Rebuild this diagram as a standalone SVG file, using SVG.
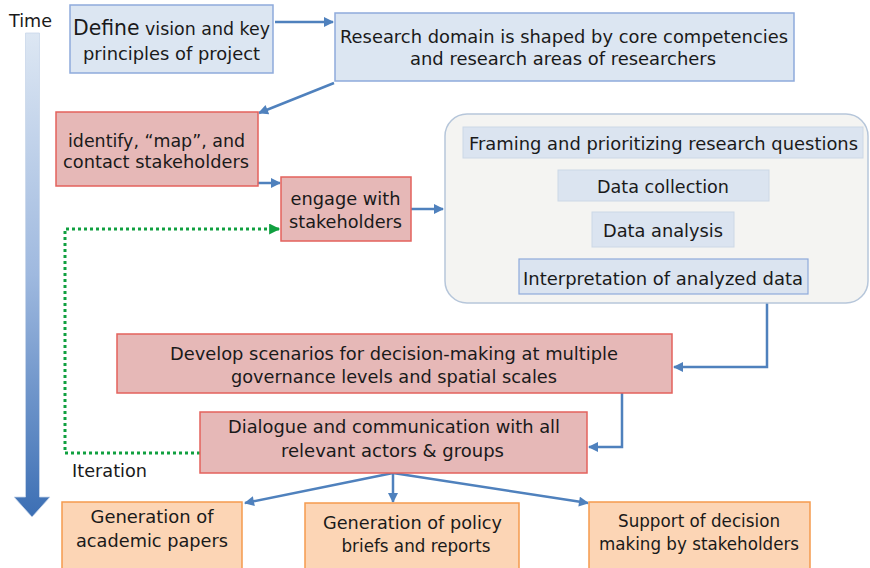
<svg xmlns="http://www.w3.org/2000/svg" width="870" height="568" viewBox="0 0 870 568">
<defs>
<style>
text{font-family:"DejaVu Sans","Liberation Sans",sans-serif;fill:#1a1a1a;text-anchor:middle;font-size:17.5px}
.blue{fill:#dce6f2;stroke:#8eaadb;stroke-width:1.5}
.red{fill:#e6b8b7;stroke:#e3625c;stroke-width:1.5}
.orange{fill:#fcd5b5;stroke:#f59a4e;stroke-width:1.5}
.inner{fill:#dbe4f0;stroke:#ccd8e6;stroke-width:1}
.conn{fill:none;stroke:#4f81bd;stroke-width:2.5}
.iter{fill:none;stroke:#10a040;stroke-width:3;stroke-dasharray:3 3}
</style>
<marker id="ab" viewBox="0 0 10 10" refX="9" refY="5" markerWidth="11" markerHeight="10" markerUnits="userSpaceOnUse" orient="auto"><path d="M0,0 L10,5 L0,10 z" fill="#4f81bd"/></marker>
<marker id="ag" viewBox="0 0 10 10" refX="9" refY="5" markerWidth="12" markerHeight="11" markerUnits="userSpaceOnUse" orient="auto"><path d="M0,0 L10,5 L0,10 z" fill="#10a040"/></marker>
<linearGradient id="tg" gradientUnits="userSpaceOnUse" x1="0" y1="33" x2="0" y2="517">
<stop offset="0" stop-color="#dde7f3"/>
<stop offset="0.5" stop-color="#9fb9df"/>
<stop offset="1" stop-color="#3c6fb4"/>
</linearGradient>
</defs>

<g id="time">
<path d="M25.5,33 H39.5 V497 H50 L32,517 L14,497 H25.5 Z" fill="url(#tg)" stroke="#c9d7ea" stroke-width="0.8"/>
<text x="30.5" y="27" font-size="17" textLength="43" lengthAdjust="spacingAndGlyphs">Time</text>
</g>

<g id="connectors">
<line class="conn" x1="275" y1="22" x2="333" y2="22" marker-end="url(#ab)"/>
<line class="conn" x1="334" y1="83" x2="259" y2="113" marker-end="url(#ab)"/>
<line class="conn" x1="258" y1="183" x2="280" y2="183" marker-end="url(#ab)"/>
<line class="conn" x1="411" y1="209" x2="443" y2="209" marker-end="url(#ab)"/>
<polyline class="conn" points="767,303 767,367 674,367" marker-end="url(#ab)"/>
<polyline class="conn" points="622,393 622,447 589,447" marker-end="url(#ab)"/>
<line class="conn" x1="393" y1="473" x2="245" y2="503" marker-end="url(#ab)"/>
<line class="conn" x1="393" y1="473" x2="393" y2="502" marker-end="url(#ab)"/>
<line class="conn" x1="393" y1="473" x2="588" y2="503" marker-end="url(#ab)"/>
<polyline class="iter" points="200,453 65,453 65,229 279,229" marker-end="url(#ag)"/>
<text x="109.5" y="477" font-size="17" textLength="75" lengthAdjust="spacingAndGlyphs">Iteration</text>
</g>

<g id="define">
<rect class="blue" x="70" y="5" width="203" height="68"/>
<text x="171.5" y="35" textLength="197" lengthAdjust="spacingAndGlyphs"><tspan font-size="20.5">Define</tspan> vision and key</text>
<text x="171.5" y="60" textLength="177" lengthAdjust="spacingAndGlyphs">principles of project</text>
</g>

<g id="research">
<rect class="blue" x="335" y="13" width="459" height="68"/>
<text x="564" y="43" textLength="448" lengthAdjust="spacingAndGlyphs">Research domain is shaped by core competencies</text>
<text x="563" y="65" textLength="306" lengthAdjust="spacingAndGlyphs">and research areas of researchers</text>
</g>

<g id="identify">
<rect class="red" x="56" y="112" width="202" height="74"/>
<text x="156.5" y="147" textLength="177" lengthAdjust="spacingAndGlyphs">identify, “map”, and</text>
<text x="156" y="168" textLength="186" lengthAdjust="spacingAndGlyphs">contact stakeholders</text>
</g>

<g id="engage">
<rect class="red" x="281" y="177" width="130" height="64"/>
<text x="345.5" y="205" textLength="110" lengthAdjust="spacingAndGlyphs">engage with</text>
<text x="345.5" y="228" textLength="113" lengthAdjust="spacingAndGlyphs">stakeholders</text>
</g>

<g id="research-process">
<rect x="445" y="114" width="423" height="189" rx="22" fill="#f4f4f2" stroke="#b6c6da" stroke-width="1.5"/>
<g id="framing">
<rect class="inner" x="463" y="127" width="400" height="31"/>
<text x="663.5" y="150" textLength="389" lengthAdjust="spacingAndGlyphs">Framing and prioritizing research questions</text>
</g>
<g id="collection">
<rect class="inner" x="558" y="170" width="211" height="31"/>
<text x="663" y="193" textLength="132" lengthAdjust="spacingAndGlyphs">Data collection</text>
</g>
<g id="analysis">
<rect class="inner" x="592" y="212" width="142" height="35"/>
<text x="663" y="237" textLength="120" lengthAdjust="spacingAndGlyphs">Data analysis</text>
</g>
<g id="interpretation">
<rect x="519" y="259" width="289" height="35" fill="#dbe4f0" stroke="#8eaadb" stroke-width="1.2"/>
<text x="663" y="285" textLength="280" lengthAdjust="spacingAndGlyphs">Interpretation of analyzed data</text>
</g>
</g>

<g id="develop">
<rect class="red" x="117" y="334" width="555" height="59"/>
<text x="394" y="360" textLength="448" lengthAdjust="spacingAndGlyphs">Develop scenarios for decision-making at multiple</text>
<text x="394" y="383" textLength="326" lengthAdjust="spacingAndGlyphs">governance levels and spatial scales</text>
</g>

<g id="dialogue">
<rect class="red" x="200" y="412" width="387" height="61"/>
<text x="394" y="433" textLength="332" lengthAdjust="spacingAndGlyphs">Dialogue and communication with all</text>
<text x="392.5" y="457" textLength="223" lengthAdjust="spacingAndGlyphs">relevant actors &amp; groups</text>
</g>

<g id="papers">
<rect class="orange" x="62" y="502" width="180" height="70"/>
<text x="152" y="523" textLength="123" lengthAdjust="spacingAndGlyphs">Generation of</text>
<text x="152" y="547" textLength="152" lengthAdjust="spacingAndGlyphs">academic papers</text>
</g>

<g id="briefs">
<rect class="orange" x="305" y="503" width="214" height="70"/>
<text x="412.5" y="529" textLength="179" lengthAdjust="spacingAndGlyphs">Generation of policy</text>
<text x="416" y="552" textLength="149" lengthAdjust="spacingAndGlyphs">briefs and reports</text>
</g>

<g id="support">
<rect class="orange" x="589" y="502" width="221" height="70"/>
<text x="699" y="527" textLength="162" lengthAdjust="spacingAndGlyphs">Support of decision</text>
<text x="699" y="550" textLength="200" lengthAdjust="spacingAndGlyphs">making by stakeholders</text>
</g>
</svg>
